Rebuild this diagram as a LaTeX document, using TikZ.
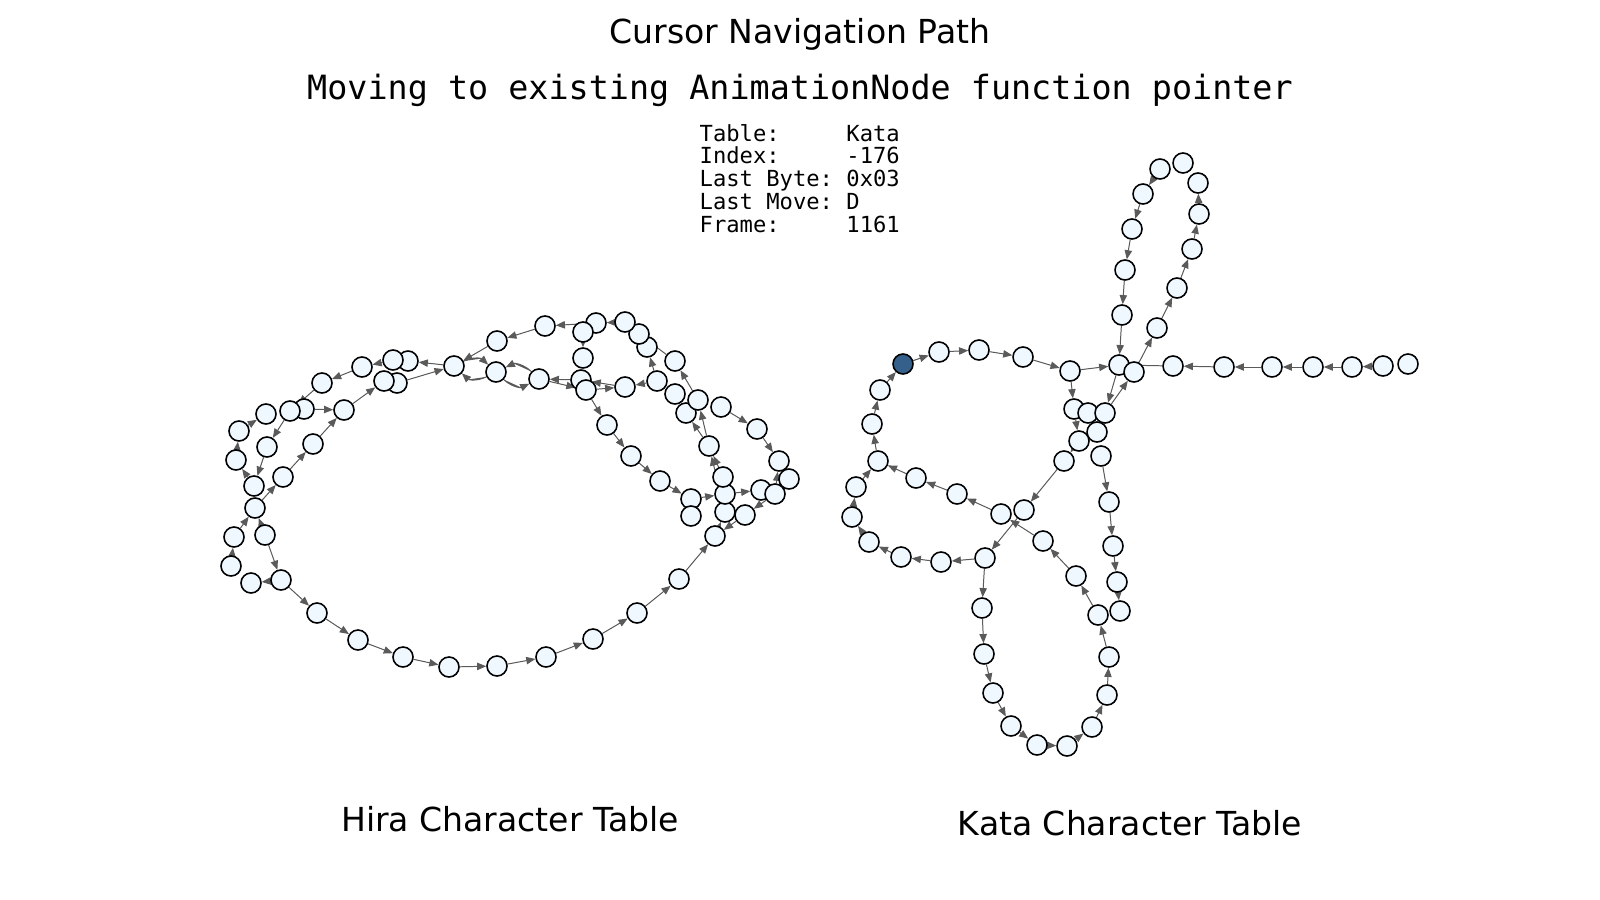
\documentclass[tikz,border=0pt]{standalone}
\usepackage{fontspec}
\setmainfont{DejaVu Sans}
\setmonofont{DejaVu Sans Mono}
\usepackage{xcolor}
\definecolor{navfill}{RGB}{240,248,255}
\definecolor{navcur}{RGB}{52,96,139}
\definecolor{navedge}{RGB}{90,90,90}
\usetikzlibrary{arrows.meta}
\pgfdeclarelayer{edges}
\pgfsetlayers{edges,main}
\newcommand{\infokey}[1]{\makebox[11\fontcharwd\font`0][l]{#1}}

\begin{document}
\begin{tikzpicture}[x=0.01cm, y=-0.01cm, >={Triangle[length=2.6pt,width=2.1pt]},
    chr/.style={circle, draw=black, line width=0.45pt, fill=navfill, minimum size=0.2cm, inner sep=0pt},
    cur/.style={chr, fill=navcur},
    mv/.style={->, draw=navedge, fill=navedge, line width=0.28pt},
    lbl/.style={font=\fontsize{9.4}{11}\selectfont, anchor=base},
    infotxt/.style={font=\ttfamily\fontsize{6.3}{7.5}\selectfont, anchor=base west, inner sep=0pt}]

\useasboundingbox (0,0) rectangle (1600,900);

% =====================================================
% TITLES
% =====================================================
\node[lbl] (title) at (800,43.5) {Cursor Navigation Path};
\node[lbl, font=\ttfamily\fontsize{9.5}{11}\selectfont] (subtitle) at (800,99) {Moving to existing AnimationNode function pointer};

% --- Status box ---
\foreach \k/\v [count=\i] in {Table:/Kata, Index:/-176, Last Byte:/0x03, Last Move:/D, Frame:/1161}
    \node[infotxt] (info\i) at (699,{141+22.8*(\i-1)}) {\infokey{\k}\v};

% =====================================================
% LEFT: HIRA TABLE
% =====================================================
\foreach \n/\x/\y in {h1/497/341, h2/496/372, h3/454/366, h4/408/361, h5/393/360,
    h6/397/383, h7/384/381, h8/362/367, h9/322/383, h10/344/410, h11/304/409,
    h12/290/411, h13/266/414, h14/239/431, h15/267/447, h16/313/444, h17/236/460,
    h18/254/486, h19/283/477, h20/255/508, h21/234/537, h22/265/535, h23/231/566,
    h24/251/583, h25/281/580, h26/317/613, h27/358/640, h28/403/657, h29/449/667,
    h30/497/666, h31/546/657, h32/593/639, h33/637/613, h34/679/579, h35/715/536,
    h36/725/512, h37/745/515, h38/725/494, h39/761/490, h40/775/494, h41/789/479,
    h42/779/461, h43/757/429, h44/721/407, h45/723/477, h46/709/446, h47/686/413,
    h48/698/400, h49/675/394, h50/675/361, h51/657/381, h52/647/347, h53/639/334,
    h54/625/322, h55/596/323, h56/583/332, h57/583/358, h58/581/380, h59/586/390,
    h60/625/387, h61/545/326, h62/539/379, h63/607/425, h64/631/456, h65/660/481,
    h66/691/499, h67/691/516}
    \node[chr] (\n) at (\x,\y) {};

\node[lbl] (hiralabel) at (510,831) {Hira Character Table};

% =====================================================
% RIGHT: KATA TABLE
% =====================================================
\foreach \n/\x/\y in {k2/939/352, k3/979/350, k4/1023/357, k5/1070/371,
    k6/1119/365, k7/1134/372, k8/1173/366, k9/1224/367, k10/1272/367, k11/1313/367,
    k12/1352/367, k13/1383/366, k14/1408/364, k15/1122/315, k16/1125/270,
    k17/1132/229, k18/1143/194, k19/1160/169, k20/1183/163, k21/1198/183,
    k22/1199/214, k23/1192/249, k24/1177/288, k25/1157/328, k26/1074/409,
    k27/1088/413, k28/1105/413, k29/1097/432, k30/1079/441, k31/1101/456,
    k32/1064/461, k33/1109/502, k34/1113/546, k35/1117/582, k36/1120/611,
    k37/1098/615, k38/1109/657, k39/1107/695, k40/1092/727, k41/1067/746,
    k42/1037/745, k43/1011/726, k44/993/693, k45/984/654, k46/982/608,
    k47/985/558, k48/941/562, k49/901/557, k50/869/542, k51/852/517,
    k52/856/487, k53/878/461, k54/872/424, k55/880/390, k56/916/478,
    k57/957/494, k58/1001/514, k59/1024/510, k60/1043/541, k61/1076/576}
    \node[chr] (\n) at (\x,\y) {};

% cursor position
\node[cur] (k1) at (903,364) {};

\node[lbl] (katalabel) at (1130,835.5) {Kata Character Table};

% =====================================================
% MOVES
% =====================================================
\begin{pgfonlayer}{edges}
    \foreach \a/\b in {h61/h1, h1/h3, h3/h4, h5/h8, h8/h9, h9/h12, h11/h10,
        h12/h15, h15/h18, h18/h17, h17/h14, h14/h13, h20/h19, h19/h16, h16/h10,
        h10/h7, h6/h3, h21/h20, h22/h20, h22/h25, h25/h24, h23/h21,
        h25/h26, h26/h27, h27/h28, h28/h29, h29/h30, h30/h31, h31/h32, h32/h33,
        h33/h34, h34/h35, h37/h35, h35/h36, h45/h46, h36/h46, h46/h47, h46/h48,
        h48/h50, h50/h53, h51/h52, h51/h60, h59/h60, h60/h58, h58/h62, h62/h59,
        h59/h63, h63/h64, h64/h65, h65/h66, h66/h38, h38/h39, h40/h37, h44/h43,
        h43/h42, h40/h42, h54/h55, h55/h61, h56/h57}
        \draw[mv] (\a) -- (\b);

    % double moves between neighbours
    \draw[mv] (h3) to[bend left=35] (h2);
    \draw[mv] (h2) to[bend left=35] (h3);
    \draw[mv] (h2) to[bend right=35] (h62);
    \draw[mv] (h62) to[bend right=35] (h2);

    \foreach \a/\b in {k55/k1, k54/k55, k53/k54, k52/k53, k51/k52, k50/k51,
        k49/k50, k48/k49, k47/k48, k1/k2, k2/k3, k3/k4, k4/k5, k5/k6, k5/k26,
        k6/k28, k28/k7, k7/k25, k25/k24, k24/k23, k23/k22, k22/k21, k19/k18,
        k18/k17, k17/k16, k16/k15, k15/k6, k8/k6, k9/k8, k10/k9, k11/k10,
        k12/k11, k13/k12, k32/k59, k31/k33, k33/k34, k34/k35, k35/k36,
        k37/k61, k38/k37, k39/k38, k40/k39, k41/k40, k42/k41, k43/k42,
        k44/k43, k45/k44, k46/k45, k47/k46, k61/k60, k60/k58, k59/k47,
        k58/k57, k57/k56, k56/k53, k26/k30, k30/k32}
        \draw[mv] (\a) -- (\b);
\end{pgfonlayer}

\end{tikzpicture}
\end{document}
